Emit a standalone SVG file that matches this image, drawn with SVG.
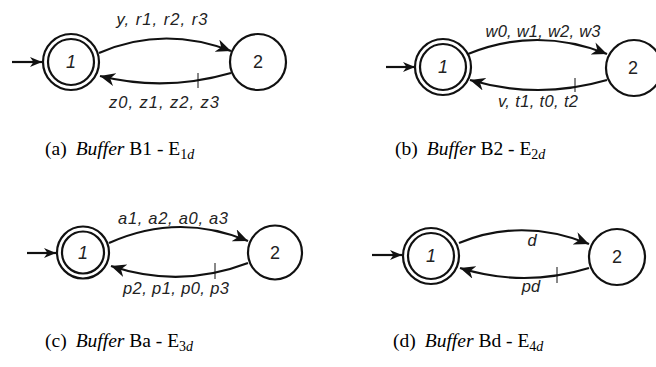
<svg xmlns="http://www.w3.org/2000/svg" width="656" height="367" viewBox="0 0 656 367">
<defs>
<marker id="ah" markerUnits="userSpaceOnUse" markerWidth="17" markerHeight="13" refX="15" refY="6.5" orient="auto" viewBox="0 0 17 13"><path d="M0,0 L15,6.5 L0,13 L4.5,6.5 z" fill="#111"/></marker>
<marker id="ai" markerUnits="userSpaceOnUse" markerWidth="13" markerHeight="10" refX="12" refY="5" orient="auto" viewBox="0 0 13 10"><path d="M0,0 L12,5 L0,10 L3.5,5 z" fill="#111"/></marker>
</defs>
<style>
.st{fill:#fff;stroke:#111;stroke-width:2.2}
.arc{fill:none;stroke:#111;stroke-width:2.2;marker-end:url(#ah)}
.init{fill:none;stroke:#111;stroke-width:2.2;marker-end:url(#ai)}
.tick{stroke:#111;stroke-width:1}
.nl{font-family:"Liberation Sans",Arial,sans-serif;font-size:18px;fill:#222;text-anchor:middle}
.el{font-family:"Liberation Sans",Arial,sans-serif;font-size:16.5px;font-style:italic;fill:#222;text-anchor:middle}
.cap{font-family:"Liberation Serif","Times New Roman",serif;font-size:19.5px;fill:#000}
</style>
<rect width="656" height="367" fill="#fff"/>

<!-- Panel a -->
<g id="a-node1"><circle class="st" cx="71" cy="62" r="28"/><circle class="st" cx="71" cy="62" r="23"/><text class="nl" x="71" y="68" font-style="italic">1</text></g>
<g id="a-node2"><circle class="st" cx="258" cy="62" r="28"/><text class="nl" x="258" y="68">2</text></g>

<!-- Panel b -->
<g id="b-node1"><circle class="st" cx="443" cy="67" r="28"/><circle class="st" cx="443" cy="67" r="23"/><text class="nl" x="443" y="73" font-style="italic">1</text></g>
<g id="b-node2"><circle class="st" cx="634" cy="68" r="28"/><text class="nl" x="633" y="74">2</text></g>

<!-- Panel c -->
<g id="c-node1"><circle class="st" cx="83" cy="252.5" r="26"/><circle class="st" cx="83" cy="252.5" r="21"/><text class="nl" x="83" y="258.5" font-style="italic">1</text></g>
<g id="c-node2"><circle class="st" cx="275" cy="252.5" r="27"/><text class="nl" x="275" y="258.5">2</text></g>

<!-- Panel d -->
<g id="d-node1"><circle class="st" cx="431" cy="256" r="28"/><circle class="st" cx="431" cy="256" r="23"/><text class="nl" x="431" y="262" font-style="italic">1</text></g>
<g id="d-node2"><circle class="st" cx="617" cy="257" r="28"/><text class="nl" x="617" y="263">2</text></g>

<g id="connectors">
<path class="init" d="M12,62 L42,62"/>
<path class="arc" d="M99,53 Q163,25 231,51"/>
<path class="arc" d="M231,73 Q165,92 100,76"/>
<line class="tick" x1="198" y1="73" x2="198" y2="88"/>

<path class="init" d="M386,67 L415,67"/>
<path class="arc" d="M468,54 Q537,26 607,54"/>
<path class="arc" d="M607,80 Q538,100 470,80"/>
<line class="tick" x1="575" y1="78" x2="575" y2="92"/>

<path class="init" d="M27,253 L56,253"/>
<path class="arc" d="M109,243 Q178,212 248,241"/>
<path class="arc" d="M248,263 Q180,289 111,266"/>
<line class="tick" x1="215" y1="263" x2="215" y2="279"/>

<path class="init" d="M372,255 L402,255"/>
<path class="arc" d="M459,243 Q522,217 589,244"/>
<path class="arc" d="M589,268 Q524,288 460,268"/>
<line class="tick" x1="557" y1="267" x2="557" y2="283"/>
</g>

<g id="labels">
<text class="el" x="162" y="25" textLength="91">y, r1, r2, r3</text>
<text class="el" x="164" y="108" textLength="110">z0, z1, z2, z3</text>
<text class="el" x="543" y="37" textLength="115">w0, w1, w2, w3</text>
<text class="el" x="538" y="107" textLength="80">v, t1, t0, t2</text>
<text class="el" x="173" y="224" textLength="110">a1, a2, a0, a3</text>
<text class="el" x="176" y="294" textLength="106">p2, p1, p0, p3</text>
<text class="el" x="532" y="246">d</text>
<text class="el" x="531" y="292">pd</text>
</g>

<g id="captions">
<text class="cap" x="45" y="155">(a)<tspan dx="9" font-style="italic">Buffer</tspan> B1 - E<tspan font-size="14" dy="4">1</tspan><tspan font-size="14" font-style="italic">d</tspan></text>
<text class="cap" x="395" y="155">(b)<tspan dx="9" font-style="italic">Buffer</tspan> B2 - E<tspan font-size="14" dy="4">2</tspan><tspan font-size="14" font-style="italic">d</tspan></text>
<text class="cap" x="45" y="347">(c)<tspan dx="9" font-style="italic">Buffer</tspan> Ba - E<tspan font-size="14" dy="4">3</tspan><tspan font-size="14" font-style="italic">d</tspan></text>
<text class="cap" x="393" y="347">(d)<tspan dx="9" font-style="italic">Buffer</tspan> Bd - E<tspan font-size="14" dy="4">4</tspan><tspan font-size="14" font-style="italic">d</tspan></text>
</g>
</svg>
